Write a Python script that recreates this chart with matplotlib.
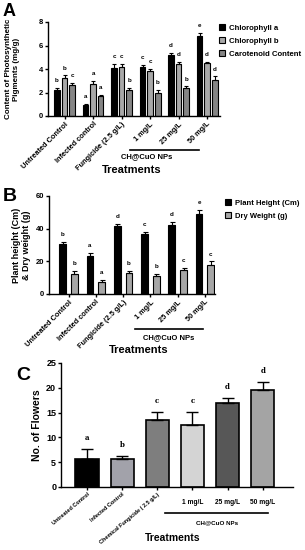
import matplotlib
matplotlib.use("Agg")
import matplotlib.pyplot as plt
import numpy as np
from matplotlib.lines import Line2D
from matplotlib.patches import Rectangle

plt.rcParams['font.family'] = ['Liberation Sans', 'DejaVu Sans']
plt.rcParams['font.weight'] = 'bold'

# ---------------- data ----------------
treat_ab = ["Untreated Control", "Infected control", "Fungicide (2.5 g/L)",
            "1 mg/L", "25 mg/L", "50 mg/L"]
chl_a = [2.18, 0.96, 4.05, 4.18, 5.2, 6.8]
chl_a_err = [0.2, 0.06, 0.4, 0.2, 0.2, 0.3]
chl_a_let = ["b", "a", "c", "c", "d", "e"]
chl_b = [3.2, 2.74, 4.18, 3.81, 4.4, 4.5]
chl_b_err = [0.25, 0.25, 0.25, 0.2, 0.2, 0.1]
chl_b_let = ["b", "a", "c", "c", "d", "d"]
carot = [2.66, 1.7, 2.22, 2.0, 2.37, 3.08]
carot_err = [0.15, 0.1, 0.15, 0.2, 0.15, 0.3]
carot_let = ["c", "a", "b", "b", "b", "d"]

height = [30.5, 23.4, 41.7, 37.0, 42.3, 48.8]
height_err = [1.4, 1.5, 1.2, 1.2, 1.8, 2.4]
height_let = ["b", "a", "d", "c", "d", "e"]
dry = [12.2, 7.1, 12.8, 11.2, 14.8, 17.9]
dry_err = [1.8, 1.6, 1.2, 1.2, 1.0, 2.0]
dry_let = ["b", "a", "b", "b", "c", "c"]

treat_c = ["Untreated Control", "Infected Control", "Chemical Fungicide ( 2.5 g/L)",
           "1 mg/L", "25 mg/L", "50 mg/L"]
flowers = [5.6, 5.6, 13.6, 12.6, 16.9, 19.6]
flowers_err = [2.1, 0.6, 1.6, 2.6, 1.1, 1.6]
flowers_let = ["a", "b", "c", "c", "d", "d"]
flower_colors = ["#000000", "#a2a2aa", "#7e7e7e", "#d4d4d4", "#575757", "#a4a4a4"]

W, H = 305, 550
fig = plt.figure(figsize=(W / 100, H / 100), dpi=100)


def rect(l, t, r, b):
    return [l / W, 1 - b / H, (r - l) / W, (b - t) / H]


def fx(x):
    return x / W


def fy(y):
    return 1 - y / H


def style_ax(ax, fs):
    for s in ["top", "right"]:
        ax.spines[s].set_visible(False)
    for s in ["left", "bottom"]:
        ax.spines[s].set_linewidth(1.0)
    ax.tick_params(axis='both', width=1.0, length=2.5, pad=1)
    ax.tick_params(axis='y', labelsize=fs)
    for lab in ax.get_yticklabels():
        lab.set_fontweight('bold')


# ---------------- Panel A ----------------
axA = fig.add_axes(rect(48, 22, 220, 116))
x = np.arange(len(treat_ab))
bw = 0.2
off = 0.265
seriesA = [(chl_a, chl_a_err, chl_a_let, "#000000", "Chlorophyll a"),
           (chl_b, chl_b_err, chl_b_let, "#a8a8a8", "Chlorophyll b"),
           (carot, carot_err, carot_let, "#858585", "Carotenoid Content")]
for i, (v, e, lets, c, lab) in enumerate(seriesA):
    xs = x + (i - 1) * off
    axA.bar(xs, v, bw, color=c, edgecolor="black", linewidth=0.8, label=lab,
            yerr=[[0] * len(v), e], error_kw=dict(ecolor="black", elinewidth=0.8, capsize=1.5, capthick=0.8))
    for xi, vi, ei, li in zip(xs, v, e, lets):
        axA.text(xi, vi + ei + 0.4, li, ha="center", va="bottom", fontsize=4.5, fontweight="bold")
axA.set_xlim(-0.58, 5.45)
axA.set_ylim(0, 8)
axA.set_yticks([0, 2, 4, 6, 8])
axA.set_xticks(x)
style_ax(axA, 5.5)
axA.set_xticklabels(treat_ab, rotation=45, ha="right", rotation_mode="anchor", fontsize=5.3, fontweight="bold")
axA.set_ylabel("Content of Photosynthetic\nPigments (mg/g)", fontsize=5.8, fontweight="bold")
axA.yaxis.set_label_coords(-0.16, 0.5)
handles = [Rectangle((0, 0), 1, 1, facecolor=c, edgecolor="black", linewidth=0.8) for (_, _, _, c, _) in seriesA]
fig.legend(handles, [s[4] for s in seriesA], loc="upper left", bbox_to_anchor=(fx(216), fy(21)),
           frameon=False, fontsize=5.6, handlelength=0.8, handleheight=0.8, handletextpad=0.5,
           labelspacing=0.7, borderaxespad=0)
fig.add_artist(Line2D([fx(130), fx(199)], [fy(150), fy(150)], color="black", linewidth=1.2))
fig.text(fx(147), fy(157), "CH@CuO NPs", ha="center", va="center", fontsize=5.5, fontweight="bold")
fig.text(fx(132), fy(170), "Treatments", ha="center", va="center", fontsize=8, fontweight="bold")
fig.text(fx(3), fy(11), "A", ha="left", va="center", fontsize=13, fontweight="bold")

# ---------------- Panel B ----------------
axB = fig.add_axes(rect(49, 196, 215, 294))
bw2 = 0.25
off2 = 0.215
seriesB = [(height, height_err, height_let, "#000000", "Plant Height (Cm)", -1),
           (dry, dry_err, dry_let, "#a6a6a6", "Dry Weight (g)", 1)]
for v, e, lets, c, lab, sgn in seriesB:
    xs = x + sgn * off2
    axB.bar(xs, v, bw2, color=c, edgecolor="black", linewidth=0.8, label=lab,
            yerr=[[0] * len(v), e], error_kw=dict(ecolor="black", elinewidth=0.8, capsize=1.8, capthick=0.8))
    for xi, vi, ei, li in zip(xs, v, e, lets):
        axB.text(xi, vi + ei + 3.0, li, ha="center", va="bottom", fontsize=4.5, fontweight="bold")
axB.set_xlim(-0.72, 5.37)
axB.set_ylim(0, 60)
axB.set_yticks([0, 20, 40, 60])
axB.set_xticks(x)
style_ax(axB, 5.5)
axB.set_xticklabels(treat_ab, rotation=45, ha="right", rotation_mode="anchor", fontsize=5.3, fontweight="bold")
axB.set_ylabel("Plant height (Cm)\n& Dry weight (g)", fontsize=6.5, fontweight="bold", labelpad=3)
handlesB = [Rectangle((0, 0), 1, 1, facecolor=s[3], edgecolor="black", linewidth=0.8) for s in seriesB]
fig.legend(handlesB, [s[4] for s in seriesB], loc="upper left", bbox_to_anchor=(fx(222), fy(196)),
           frameon=False, fontsize=5.5, handlelength=0.8, handleheight=0.8, handletextpad=0.5,
           labelspacing=0.7, borderaxespad=0)
fig.add_artist(Line2D([fx(135), fx(203)], [fy(329), fy(329)], color="black", linewidth=1.2))
fig.text(fx(169), fy(338), "CH@CuO NPs", ha="center", va="center", fontsize=5.5, fontweight="bold")
fig.text(fx(139), fy(350), "Treatments", ha="center", va="center", fontsize=8, fontweight="bold")
fig.text(fx(3), fy(196), "B", ha="left", va="center", fontsize=14, fontweight="bold")

# ---------------- Panel C ----------------
axC = fig.add_axes(rect(61, 363, 293, 487))
axC.bar(x, flowers, 0.66, color=flower_colors, edgecolor="black", linewidth=1.2,
        yerr=[[0] * len(flowers), flowers_err],
        error_kw=dict(ecolor="black", elinewidth=1.0, capsize=4, capthick=1.0))
for xi, vi, ei, li in zip(x, flowers, flowers_err, flowers_let):
    axC.text(xi, vi + ei + 1.4, li, ha="center", va="bottom", fontsize=5, fontweight="bold",
             family="DejaVu Serif")
axC.set_xlim(-0.74, 5.86)
axC.set_ylim(0, 25)
axC.set_yticks([0, 5, 10, 15, 20, 25])
axC.set_xticks(x)
style_ax(axC, 6.5)
axC.set_xticklabels(treat_c, fontsize=4.0, fontweight="bold")
for i, lab in enumerate(axC.get_xticklabels()):
    if i < 3:
        lab.set_rotation(40)
        lab.set_ha("right")
        lab.set_rotation_mode("anchor")
    else:
        lab.set_fontsize(4.8)
        lab.set_y(-0.06)
axC.set_ylabel("No. of Flowers", fontsize=7.5, fontweight="bold", labelpad=3)
fig.add_artist(Line2D([fx(165), fx(268)], [fy(513), fy(513)], color="black", linewidth=1.2))
fig.text(fx(217), fy(523), "CH@CuO NPs", ha="center", va="center", fontsize=4.5, fontweight="bold")
fig.text(fx(173), fy(538), "Treatments", ha="center", va="center", fontsize=7.5, fontweight="bold")
fig.text(fx(16), fy(376), "C", ha="left", va="center", fontsize=14, fontweight="bold")

fig.savefig("out.png", dpi=100)
